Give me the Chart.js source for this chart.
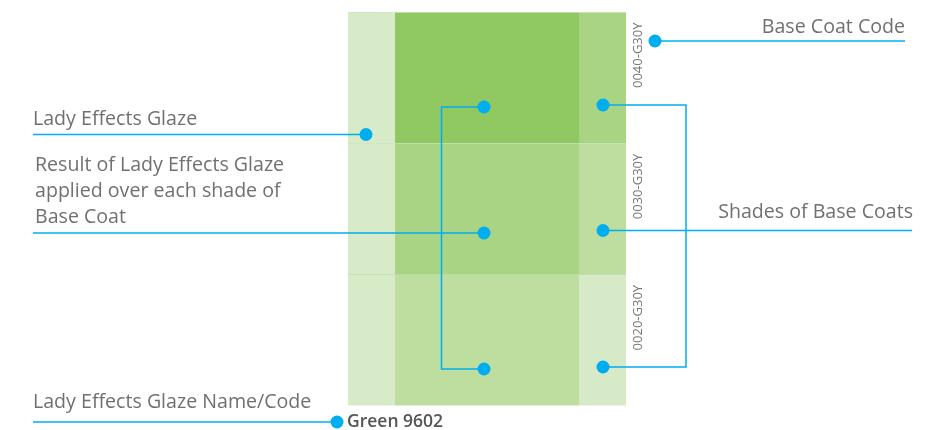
<!DOCTYPE html>
<html lang="en">
<head>
  <meta charset="UTF-8" />
  <title>Lady Effects Glaze</title>
  <script src="https://cdn.jsdelivr.net/npm/chart.js"></script>
  <style>
    body { margin: 0; background: #fff; }
    .wrap { width: 942px; height: 430px; position: relative; }
  </style>
</head>
<body>
  <div class="wrap"><canvas id="glaze"></canvas></div>
  <script>
    // data
    const shades = ['0040-G30Y', '0030-G30Y', '0020-G30Y'];
    const glazeName = 'Green 9602';
    const glazeColor = '#d8ebc9';
    const resultColors = ['#90c962', '#a8d483', '#bedea0'];
    const baseColors = ['#a8d483', '#bedea0', '#d7eac8'];
    const resultText = ['Result of Lady Effects Glaze', 'applied over each shade of', 'Base Coat'];

    // layout (canvas units)
    const gridLeft = 348, gridTop = 12, rowH = 131.2;
    const colW = [47, 184, 47];
    const blue = '#00aeef';
    const grey = '#707070';

    const rowY = shades.map((s, i) => gridTop + rowH * (i + 0.5));
    const colEdges = [gridLeft];
    colW.forEach(w => colEdges.push(colEdges[colEdges.length - 1] + w));

    function swatch(label, col, colors) {
      return {
        type: 'bar', label, indexAxis: 'y', order: 2, grouped: false,
        data: rowY.map(y => ({ y, x: [colEdges[col], colEdges[col + 1]] })),
        backgroundColor: colors,
        borderColor: 'rgba(120,180,80,0.35)',
        borderWidth: { top: 1, bottom: 0, left: 0, right: 0 },
        borderSkipped: false,
        categoryPercentage: 1, barPercentage: 1
      };
    }

    // leader lines: points, and which ends get a dot
    const leaders = [
      { pts: [[655, 41], [905, 41]], dots: [0] },
      { pts: [[33, 134.5], [366, 134.5]], dots: [1] },
      { pts: [[33, 233], [484, 233]], dots: [1] },
      { pts: [[484, 107], [441.5, 107], [441.5, 369], [484, 369]], dots: [0, 3] },
      { pts: [[603, 105], [686, 105], [686, 367], [603, 367]], dots: [0, 3] },
      { pts: [[603, 230.5], [912, 230.5]], dots: [0] },
      { pts: [[33, 422], [337, 422]], dots: [1] }
    ];

    const lineSets = leaders.map((l, i) => ({
      type: 'line', label: 'leader' + i, order: 1,
      data: l.pts.map(p => ({ x: p[0], y: p[1] })),
      borderColor: blue, borderWidth: 1.5, fill: false, tension: 0,
      pointRadius: l.pts.map((p, k) => l.dots.includes(k) ? 6.5 : 0),
      pointBackgroundColor: blue, pointBorderWidth: 0, pointHoverRadius: 0
    }));

    const textPlugin = {
      id: 'texts',
      afterDatasetsDraw(chart) {
        const { ctx, scales: { x, y } } = chart;
        const put = (str, px, py, align, font, color) => {
          ctx.font = font;
          ctx.fillStyle = color;
          ctx.textAlign = align;
          ctx.textBaseline = 'alphabetic';
          ctx.fillText(str, x.getPixelForValue(px), y.getPixelForValue(py));
        };
        ctx.save();
        const f = '400 19.6px "Open Sans"';
        put('Base Coat Code', 905, 33, 'right', f, grey);
        put('Lady Effects Glaze', 33, 125, 'left', f, grey);
        resultText.forEach((t, i) => put(t, 35, 171 + i * 26, 'left', f, grey));
        put('Shades of Base Coats', 913, 218, 'right', f, grey);
        put('Lady Effects Glaze Name/Code', 33, 408, 'left', f, grey);
        put(glazeName, 347, 427, 'left', '600 17.5px "Open Sans"', '#555');
        // rotated base coat codes
        shades.forEach((s, i) => {
          ctx.save();
          ctx.translate(x.getPixelForValue(642), y.getPixelForValue(gridTop + rowH * i + 76));
          ctx.rotate(-Math.PI / 2);
          ctx.font = '400 13px "Open Sans"';
          ctx.fillStyle = '#777';
          ctx.textAlign = 'left';
          ctx.fillText(s, 0, 0);
          ctx.restore();
        });
        ctx.restore();
      }
    };

    new Chart(document.getElementById('glaze'), {
      type: 'bar',
      data: {
        datasets: [
          swatch('Lady Effects Glaze', 0, shades.map(() => glazeColor)),
          swatch('Result', 1, resultColors),
          swatch('Base Coat', 2, baseColors),
          ...lineSets
        ]
      },
      options: {
        responsive: true,
        maintainAspectRatio: false,
        animation: false,
        layout: { padding: 0, autoPadding: false },
        scales: {
          x: { type: 'linear', min: 0, max: 942, offset: false, display: false },
          y: {
            type: 'linear', min: 0, max: 430, reverse: true, offset: false, display: false,
            afterBuildTicks: s => { s.ticks = rowY.map(v => ({ value: v })); }
          }
        },
        plugins: { legend: { display: false }, tooltip: { enabled: false } }
      },
      plugins: [textPlugin]
    });
  </script>
</body>
</html>
